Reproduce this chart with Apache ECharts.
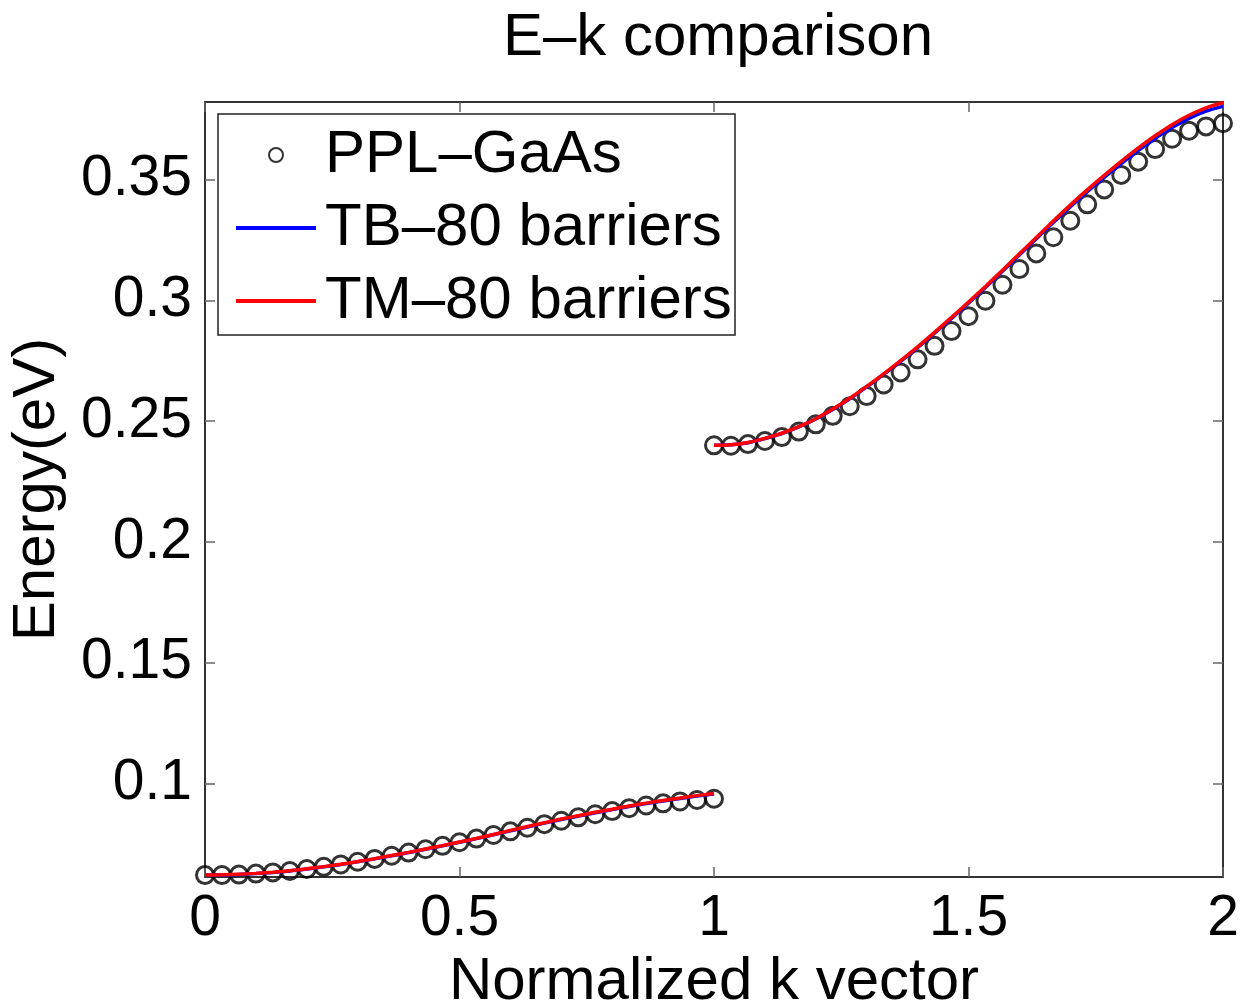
<!DOCTYPE html>
<html>
<head>
<meta charset="utf-8">
<title>E–k comparison</title>
<script src="https://cdn.jsdelivr.net/npm/echarts@6/dist/echarts.min.js"></script>
<style>
  html, body { margin: 0; padding: 0; background: #fff; }
  #chart { width: 1243px; height: 1001px; }
</style>
</head>
<body>
<div id="chart"></div>
<script>
// normalized k grid (31 points per branch)
var kLower = [0, 0.0333, 0.0667, 0.1, 0.1333, 0.1667, 0.2, 0.2333, 0.2667, 0.3, 0.3333,
  0.3667, 0.4, 0.4333, 0.4667, 0.5, 0.5333, 0.5667, 0.6, 0.6333, 0.6667,
  0.7, 0.7333, 0.7667, 0.8, 0.8333, 0.8667, 0.9, 0.9333, 0.9667, 1];
var kUpper = [1, 1.0333, 1.0667, 1.1, 1.1333, 1.1667, 1.2, 1.2333, 1.2667, 1.3, 1.3333,
  1.3667, 1.4, 1.4333, 1.4667, 1.5, 1.5333, 1.5667, 1.6, 1.6333, 1.6667,
  1.7, 1.7333, 1.7667, 1.8, 1.8333, 1.8667, 1.9, 1.9333, 1.9667, 2];

// PPL-GaAs (circles)
var pplLower = [0.0620, 0.0620, 0.0622, 0.0626, 0.0631, 0.0637, 0.0645, 0.0654, 0.0664, 0.0675, 0.0687,
  0.0700, 0.0713, 0.0727, 0.0741, 0.0756, 0.0771, 0.0786, 0.0801, 0.0816, 0.0831,
  0.0845, 0.0859, 0.0872, 0.0885, 0.0897, 0.0908, 0.0917, 0.0925, 0.0931, 0.0936];
var pplUpper = [0.2400, 0.2398, 0.2405, 0.2418, 0.2434, 0.2457, 0.2487, 0.2522, 0.2562, 0.2604, 0.2652,
  0.2702, 0.2756, 0.2812, 0.2873, 0.2935, 0.2999, 0.3065, 0.3130, 0.3195, 0.3262,
  0.3330, 0.3398, 0.3460, 0.3520, 0.3575, 0.3627, 0.3670, 0.3703, 0.3721, 0.3734];

// TB-80 barriers (blue)
var tbLower = [0.0620, 0.0620, 0.0622, 0.0626, 0.0631, 0.0637, 0.0645, 0.0654, 0.0664, 0.0675, 0.0687,
  0.0700, 0.0713, 0.0727, 0.0741, 0.0756, 0.0771, 0.0787, 0.0803, 0.0819, 0.0835,
  0.0850, 0.0864, 0.0878, 0.0891, 0.0904, 0.0916, 0.0927, 0.0937, 0.0947, 0.0956];
var tbUpper = [0.2400, 0.2402, 0.2411, 0.2428, 0.2449, 0.2476, 0.2509, 0.2548, 0.2593, 0.2642, 0.2694,
  0.2748, 0.2805, 0.2865, 0.2926, 0.2989, 0.3054, 0.3121, 0.3188, 0.3256, 0.3323,
  0.3388, 0.3451, 0.3510, 0.3567, 0.3621, 0.3671, 0.3716, 0.3754, 0.3784, 0.3804];

// TM-80 barriers (red)
var tmLower = [0.0620, 0.0621, 0.0623, 0.0627, 0.0632, 0.0638, 0.0646, 0.0655, 0.0665, 0.0676, 0.0688,
  0.0701, 0.0714, 0.0728, 0.0742, 0.0757, 0.0772, 0.0788, 0.0805, 0.0821, 0.0837,
  0.0852, 0.0866, 0.0880, 0.0893, 0.0906, 0.0918, 0.0929, 0.0939, 0.0949, 0.0958];
var tmUpper = [0.2400, 0.2402, 0.2412, 0.2429, 0.2450, 0.2477, 0.2510, 0.2550, 0.2595, 0.2644, 0.2696,
  0.2751, 0.2808, 0.2868, 0.2930, 0.2993, 0.3058, 0.3125, 0.3193, 0.3261, 0.3329,
  0.3395, 0.3458, 0.3518, 0.3576, 0.3631, 0.3682, 0.3728, 0.3767, 0.3798, 0.3820];

var yTicks = [0.1, 0.15, 0.2, 0.25, 0.3, 0.35];

function pairs(xs, ys) {
  return xs.map(function (x, i) { return [x, ys[i]]; });
}

var font = "'Liberation Sans', Arial, Helvetica, sans-serif";
var axisColor = "#333";
var tickColor = "#666";

var chart = echarts.init(document.getElementById("chart"));

function lineSeries(name, color, data, z) {
  return {
    name: name,
    type: "line",
    data: data,
    symbol: "none",
    smooth: 0.25,
    z: z,
    lineStyle: { color: color, width: 3.5 },
    itemStyle: { color: color },
    emphasis: { disabled: true }
  };
}

function lineLegend(name, color) {
  return {
    name: name,
    itemStyle: { color: "transparent", borderWidth: 0, opacity: 0 },
    lineStyle: { color: color, width: 4 }
  };
}

chart.setOption({
  animation: false,
  backgroundColor: "#fff",
  textStyle: { fontFamily: font },
  title: {
    text: "E–k comparison",
    left: 713,
    top: 3,
    textAlign: "center",
    textStyle: { fontFamily: font, fontSize: 60, fontWeight: "normal", color: "#000" }
  },
  grid: { left: 205, right: 20, top: 102, bottom: 124, containLabel: false, outerBoundsMode: "none" },
  graphic: [
    {
      type: "rect",
      z: 3,
      shape: { x: 218, y: 114, width: 517, height: 221 },
      style: { fill: "#fff", stroke: "#222", lineWidth: 1.5 }
    }
  ],
  legend: {
    left: 234,
    top: 125,
    orient: "vertical",
    z: 4,
    padding: 0,
    itemWidth: 80,
    itemHeight: 14,
    itemGap: 13,
    data: [
      { name: "PPL–GaAs" },
      lineLegend("TB–80 barriers", "#0000ff"),
      lineLegend("TM–80 barriers", "#ff0000")
    ],
    textStyle: { fontFamily: font, fontSize: 60, lineHeight: 60, color: "#000", padding: [0, 0, 0, 4] }
  },
  xAxis: [
    {
      type: "value",
      min: 0,
      max: 2,
      interval: 0.5,
      name: "Normalized k vector",
      nameLocation: "middle",
      nameGap: 58,
      nameTextStyle: { fontFamily: font, fontSize: 60, color: "#000" },
      axisLine: { show: true, onZero: false, lineStyle: { color: axisColor, width: 2 } },
      axisTick: { show: true, inside: true, length: 10, lineStyle: { color: tickColor, width: 1.5 } },
      axisLabel: { margin: 14, fontFamily: font, fontSize: 57, color: "#000" },
      splitLine: { show: false }
    },
    {
      type: "value",
      position: "top",
      min: 0,
      max: 2,
      interval: 0.5,
      axisLine: { show: true, onZero: false, lineStyle: { color: axisColor, width: 2 } },
      axisTick: { show: true, inside: true, length: 10, lineStyle: { color: tickColor, width: 1.5 } },
      axisLabel: { show: false },
      splitLine: { show: false }
    }
  ],
  yAxis: [
    {
      type: "value",
      min: 0.0612,
      max: 0.3822,
      name: "Energy(eV)",
      nameLocation: "middle",
      nameRotate: 90,
      nameGap: 138,
      nameTextStyle: { fontFamily: font, fontSize: 60, color: "#000" },
      axisLine: { show: true, onZero: false, lineStyle: { color: axisColor, width: 2 } },
      axisTick: { show: true, inside: true, length: 10, customValues: yTicks, lineStyle: { color: tickColor, width: 1.5 } },
      axisLabel: { margin: 13, customValues: yTicks, fontFamily: font, fontSize: 57, color: "#000" },
      splitLine: { show: false }
    },
    {
      type: "value",
      position: "right",
      min: 0.0612,
      max: 0.3822,
      axisLine: { show: true, onZero: false, lineStyle: { color: axisColor, width: 2 } },
      axisTick: { show: true, inside: true, length: 10, customValues: yTicks, lineStyle: { color: tickColor, width: 1.5 } },
      axisLabel: { show: false },
      splitLine: { show: false }
    }
  ],
  series: [
    {
      name: "PPL–GaAs",
      type: "scatter",
      data: pairs(kLower, pplLower).concat(pairs(kUpper, pplUpper)),
      symbol: "circle",
      symbolSize: 17,
      clip: false,
      z: 2,
      itemStyle: { color: "rgba(255,255,255,0)", borderColor: "#000", borderWidth: 3 },
      emphasis: { disabled: true }
    },
    lineSeries("TB–80 barriers", "#0000ff", pairs(kLower, tbLower), 3),
    lineSeries("TB–80 barriers", "#0000ff", pairs(kUpper, tbUpper), 3),
    lineSeries("TM–80 barriers", "#ff0000", pairs(kLower, tmLower), 4),
    lineSeries("TM–80 barriers", "#ff0000", pairs(kUpper, tmUpper), 4)
  ]
});
</script>
</body>
</html>
